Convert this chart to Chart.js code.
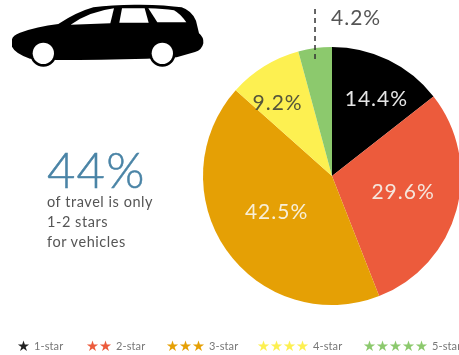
<!DOCTYPE html>
<html>
<head>
<meta charset="utf-8">
<script src="https://cdn.jsdelivr.net/npm/chart.js@4"></script>
<style>
  html, body { margin: 0; padding: 0; background: #fff; }
  #wrap { position: relative; width: 459px; height: 355px; overflow: hidden; font-family: Lato, sans-serif; color: #555; filter: blur(0.4px); }
  #pie { position: absolute; left: 0; top: 0; }
  #car { position: absolute; left: 0; top: 0; }
  .big { position: absolute; left: 47px; top: 141px; font-size: 49px; font-weight: 300; color: #4a84a6; line-height: 56px; letter-spacing: 1.2px; -webkit-text-stroke: 0.5px #4a84a6; }
  .note { position: absolute; left: 47px; top: 192px; font-size: 14.5px; line-height: 19.8px; color: #555; letter-spacing: 0.55px; }
  #legend span.item { position: absolute; top: 337px; font-size: 11px; line-height: 17px; color: #777; white-space: nowrap; letter-spacing: 0.1px; }
  #legend .stars { font-family: "DejaVu Sans"; font-size: 14.5px; letter-spacing: 0; margin-right: 4px; vertical-align: -1px; }
</style>
</head>
<body>
<div id="wrap">
  <canvas id="pie" width="459" height="355"></canvas>
  <svg id="car" width="220" height="80" viewBox="0 0 660 240">
    <path fill="#000" d="M36 118 Q38 106 60 98 Q110 80 175 72 Q230 36 280 22 Q340 13 420 14 Q500 15 545 22 Q575 32 588 62 L597 100 Q612 112 610 130 Q606 150 585 156 L530 172 L440 176 Q300 180 170 180 L90 176 Q45 160 36 140 Z"/>
    <circle cx="130" cy="160" r="40" fill="#000"/>
    <circle cx="487" cy="160" r="40" fill="#000"/>
    <circle cx="130" cy="160" r="32" fill="#fff"/>
    <circle cx="487" cy="160" r="32" fill="#fff"/>
    <path fill="#fff" d="M212 74 Q270 34 342 25 L331 70 Z"/>
    <path fill="#fff" d="M366 25 L434 25 L446 68 L358 68 Z"/>
    <path fill="#fff" d="M445 25 Q490 26 522 31 Q542 42 559 67 L472 67 Z"/>
  </svg>
  <div class="big">44%</div>
  <div class="note">of travel is only<br>1-2 stars<br>for vehicles</div>
  <div id="legend"></div>
</div>
<script>
const categories = ['1-star', '2-star', '3-star', '4-star', '5-star'];
const starCounts = [1, 2, 3, 4, 5];
const shares = [14.4, 29.6, 42.5, 9.2, 4.2];
const shareLabels = ['14.4%', '29.6%', '42.5%', '9.2%', '4.2%'];
const sliceColors = ['#000000', '#ec5b3c', '#e5a005', '#fdf051', '#8cc96d'];
const starColors = ['#222222', '#ec5b3c', '#e5a005', '#fdf051', '#8cc96d'];
const legendLeft = [17, 86, 166, 257, 363];

// legend along the bottom
document.getElementById('legend').innerHTML = categories.map((c, i) =>
  `<span class="item" style="left:${legendLeft[i]}px"><span class="stars" style="color:${starColors[i]}">${'★'.repeat(starCounts[i])}</span>${c}</span>`
).join('');

// labels sit on the slices, the last one goes outside with a dashed leader
const labelStyle = [
  { color: '#e6e6e6', r: 89, turn: 4 },
  { color: '#f5e6dc', r: 73, turn: -2 },
  { color: '#f8efd8', r: 66, turn: 2 },
  { color: '#55553a', r: 91, turn: -5 }
];
const sliceLabels = {
  id: 'sliceLabels',
  afterDatasetsDraw(chart) {
    const c = chart.ctx;
    const arcs = chart.getDatasetMeta(0).data;
    c.save();
    c.font = '21px Lato, sans-serif';
    c.letterSpacing = '1px';
    c.textAlign = 'center';
    c.textBaseline = 'middle';
    labelStyle.forEach((s, i) => {
      const a = arcs[i];
      const mid = (a.startAngle + a.endAngle) / 2 + s.turn * Math.PI / 180;
      c.fillStyle = s.color;
      c.fillText(shareLabels[i], a.x + Math.cos(mid) * s.r, a.y + Math.sin(mid) * s.r);
    });
    // leader for the small slice
    const last = arcs[4];
    const mid = (last.startAngle + last.endAngle) / 2;
    const lx = last.x + Math.cos(mid) * last.outerRadius;
    c.strokeStyle = '#333';
    c.lineWidth = 1.5;
    c.setLineDash([5, 4]);
    c.beginPath();
    c.moveTo(lx, 9);
    c.lineTo(lx, 60);
    c.stroke();
    c.setLineDash([]);
    c.fillStyle = '#555';
    c.textAlign = 'left';
    c.fillText(shareLabels[4], lx + 16, 18);
    c.restore();
  }
};

new Chart(document.getElementById('pie'), {
  type: 'pie',
  data: {
    labels: categories,
    datasets: [{ data: shares, backgroundColor: sliceColors, borderWidth: 0 }]
  },
  options: {
    responsive: false,
    animation: false,
    radius: 129,
    layout: { padding: { left: 205, right: 0, top: 47, bottom: 50 } },
    plugins: { legend: { display: false }, tooltip: { enabled: false } }
  },
  plugins: [sliceLabels]
});
</script>
</body>
</html>
